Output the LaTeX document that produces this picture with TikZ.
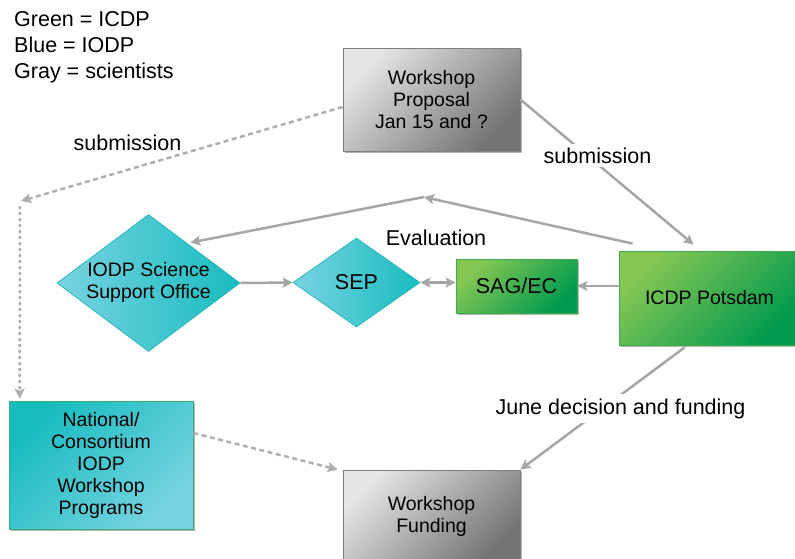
\documentclass[tikz,border=0pt]{standalone}
\usepackage{fontspec}
\setmainfont{Liberation Sans}
\usetikzlibrary{shapes.geometric,arrows.meta,shadows}
\definecolor{arr}{HTML}{A6A6A6}
\definecolor{grayA}{HTML}{E4E4E4}
\definecolor{grayB}{HTML}{747474}
\definecolor{grayline}{HTML}{7F7F7F}
\definecolor{greenA}{HTML}{86C754}
\definecolor{greenB}{HTML}{009A4E}
\definecolor{greenline}{HTML}{3DAF4A}
\definecolor{tealA}{HTML}{78D3E1}
\definecolor{tealB}{HTML}{17BCBF}
\definecolor{tealline}{HTML}{2BB7BC}
\definecolor{natline}{HTML}{3AAE6E}
\begin{document}
\begin{tikzpicture}[x=1pt,y=-1pt,
  box/.style={draw, rectangle, align=center, inner sep=0pt, line width=0.8pt,
    font=\fontsize{19.5}{22}\selectfont,
    drop shadow={shadow xshift=2pt, shadow yshift=-2pt, opacity=0.3, fill=black}},
  grayshade/.style={draw=grayline, top color=grayA, bottom color=grayB, shading angle=45},
  greenshade/.style={draw=greenline, top color=greenA, bottom color=greenB, shading angle=45},
  natshade/.style={draw=natline, top color=tealB, bottom color=tealA, shading angle=45},
  dia/.style={diamond, draw=tealline, line width=0.8pt, inner sep=0pt, left color=tealA, right color=tealB},
  txt/.style={align=center, inner sep=0pt, font=\fontsize{19.5}{22}\selectfont},
  bigtxt/.style={font=\fontsize{21.5}{24}\selectfont},
  lbl/.style={font=\fontsize{21.5}{26}\selectfont, inner sep=4pt},
  conn/.style={draw=arr, line width=2.5pt, -{Stealth[length=10pt,width=10pt,inset=2pt]}},
  dconn/.style={draw=arr, line width=2.5pt, {Stealth[length=10pt,width=10pt,inset=2pt]}-{Stealth[length=10pt,width=10pt,inset=2pt]}},
  dsh/.style={draw=arr!90, line width=2.5pt, dash pattern=on 5pt off 3.5pt, -{Stealth[length=10pt,width=10pt,inset=2pt]}},
  dotl/.style={draw=arr!90, line width=2.5pt, dash pattern=on 3pt off 3pt, -{Stealth[length=10pt,width=10pt,inset=2pt]}}
]
\useasboundingbox (0,0) rectangle (795,558);

% legend
\node[anchor=north west, align=left, inner sep=0pt, font=\fontsize{21.5}{26.2}\selectfont] (legend) at (14,11.2)
  {Green = ICDP\\Blue = IODP\\Gray = scientists};

% nodes
\node[box, grayshade, minimum width=177pt, minimum height=103pt] (wp) at (431.5,99.5) {Workshop\\Proposal\\Jan 15 and ?};
\node[box, grayshade, minimum width=177pt, minimum height=92pt] (wf) at (431.5,516) {Workshop\\Funding};
\node[box, greenshade, minimum width=181pt, minimum height=94pt] (icdp) at (709.5,298) {ICDP Potsdam};
\node[box, greenshade, bigtxt, minimum width=121pt, minimum height=54pt] (sag) at (516.5,286) {SAG/EC};
\node[box, natshade, minimum width=184pt, minimum height=128pt] (nat) at (101,465) {National/\\Consortium\\IODP\\Workshop\\Programs};

\node[dia, minimum width=183pt, minimum height=137pt] (sso) at (148.5,283) {};
\node[txt] (ssot) at (148.5,282) {IODP Science\\Support Office};
\node[dia, minimum width=127pt, minimum height=89pt] (sep) at (356.5,282.5) {};
\node[txt, bigtxt] (sept) at (356.5,282.5) {SEP};

% connectors
\coordinate (ev) at (424,197);
\coordinate (lc) at (21,201);
\draw[conn] (wp.east) -- ([xshift=75pt,yshift=6pt]icdp.north west);
\draw[conn] ([xshift=14pt,yshift=7pt]icdp.north west) -- (ev);
\draw[conn] (ev) -- ([xshift=-4pt,yshift=6pt]sso.north east);
\draw[conn] (sso.east) -- (sep.west);
\draw[dconn] (sep.east) -- (sep.east -| sag.west);
\draw[conn] (sag.east -| icdp.west) -- (sag.east);
\draw[conn] ([xshift=66pt,yshift=-2pt]icdp.south west) -- (wf.north east);
\draw[dsh] ([yshift=32pt]nat.east) -- ([xshift=-5pt]wf.north west);
\draw[dsh] ([yshift=-7.5pt]wp.west) -- (lc);
\draw[dotl] ([xshift=-1pt,yshift=-5pt]lc) -- ([xshift=11pt,yshift=2pt]nat.north west);

% labels
\node[lbl] (sub1) at (127.5,142.5) {submission};
\node[lbl, fill=white] (sub2) at (597.5,155.5) {submission};
\node[lbl] (eval) at (436,237.5) {Evaluation};
\node[lbl, fill=white] (june) at (620.5,408.5) {June decision and funding};
\end{tikzpicture}
\end{document}
